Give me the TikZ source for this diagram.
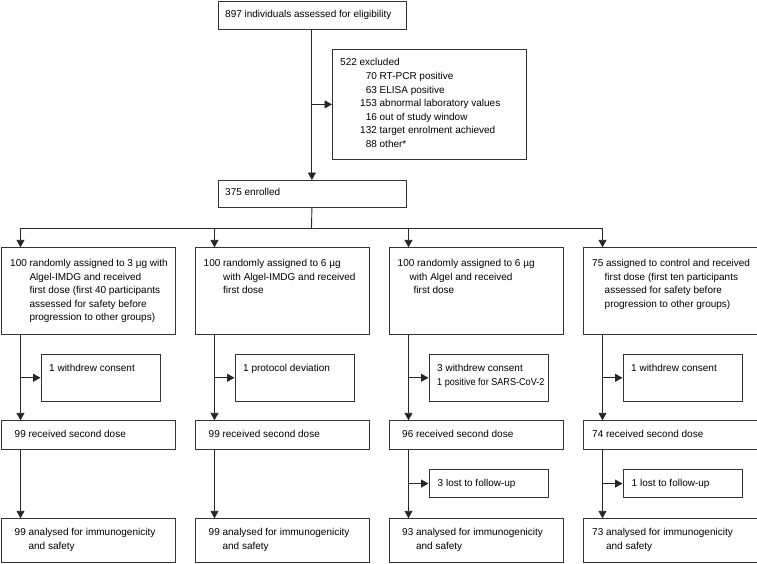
\documentclass[tikz,border=0pt]{standalone}
\usepackage{fontspec}
\usepackage{graphicx}
\setmainfont{Liberation Sans}
\usetikzlibrary{arrows.meta}
\begin{document}
\begin{tikzpicture}[x=1pt,y=-1pt,
  box/.style={draw=black!80,line width=0.8pt,rectangle,inner sep=0pt,anchor=north west},
  gbox/.style={box,minimum width=174pt},
  sbox/.style={box,minimum width=119pt},
  txt/.style={inner sep=0pt,anchor=north west,align=left,font=\fontsize{10}{13.6}\selectfont,text=black},
  conn/.style={draw=black!85,line width=0.9pt},
  arr/.style={conn,-{Triangle[width=8pt,length=7.5pt]}}]
\useasboundingbox (0,0) rectangle (757,563);

% top section
\node[box,minimum width=188pt,minimum height=28.5pt] (screen) at (217.5,0.5) {};
\node[txt] (screent) at (225,10) {897 individuals assessed for eligibility};
\node[box,minimum width=194pt,minimum height=110pt] (excl) at (332,49) {};
\node[txt] (exclt) at (340,58.5) {522 excluded\\
\hspace*{20pt}\makebox[16.7pt][r]{70} RT-PCR positive\\
\hspace*{20pt}\makebox[16.7pt][r]{63} ELISA positive\\
\hspace*{20pt}\makebox[16.7pt][r]{153} abnormal laboratory values\\
\hspace*{20pt}\makebox[16.7pt][r]{16} out of study window\\
\hspace*{20pt}\makebox[16.7pt][r]{132} target enrolment achieved\\
\hspace*{20pt}\makebox[16.7pt][r]{88} other*};
\node[box,minimum width=188pt,minimum height=27pt] (enrol) at (217.5,180) {};
\node[txt] (enrolt) at (225,188.5) {375 enrolled};

\draw[arr] (screen.south) -- (enrol.north);
\draw[arr] (screen.south |- excl.west) -- (excl.west);

% branch
\coordinate (br) at (311.5,228);
\coordinate (c1) at (20.5,228);
\coordinate (c2) at (214.5,228);
\coordinate (c3) at (408.5,228);
\coordinate (c4) at (602.5,228);
\draw[conn] (enrol.south) -- (br);
\draw[conn] (c1) -- (c4);

% group boxes
\node[gbox,minimum height=87pt] (g1) at (0.5,247.3) {};
\node[gbox,minimum height=87pt] (g2) at (194.5,247.3) {};
\node[gbox,minimum height=87pt] (g3) at (388.5,247.3) {};
\node[gbox,minimum height=87pt] (g4) at (582.5,247.3) {};
\node[txt] (g1t) at (10,259) {100 randomly assigned to 3 µg with\\
\hspace*{19.3pt}Algel-IMDG and received\\
\hspace*{19.3pt}first dose (first 40 participants\\
\hspace*{19.3pt}assessed for safety before\\
\hspace*{19.3pt}progression to other groups)};
\node[txt] (g2t) at (203.5,259) {100 randomly assigned to 6 µg\\
\hspace*{19.5pt}with Algel-IMDG and received\\
\hspace*{19.5pt}first dose};
\node[txt] (g3t) at (397.5,259) {100 randomly assigned to 6 µg\\
\hspace*{12pt}with Algel and received\\
\hspace*{16pt}first dose};
\node[txt] (g4t) at (592,259) {75 assigned to control and received\\
\hspace*{12.5pt}first dose (first ten participants\\
\hspace*{12.5pt}assessed for safety before\\
\hspace*{12.5pt}progression to other groups)};
\foreach \i in {1,2,3,4} \draw[arr] (c\i) -- (c\i |- g\i.north);

% exclusion boxes after first dose
\node[sbox,minimum height=46.7pt] (e1) at (40.5,354) {};
\node[sbox,minimum height=46.7pt] (e2) at (234.5,354) {};
\node[sbox,minimum height=46.7pt] (e3) at (428.5,354) {};
\node[sbox,minimum height=46.7pt] (e4) at (622.5,354) {};
\node[txt] (e1t) at (49,364.5) {1 withdrew consent};
\node[txt] (e2t) at (243,364.5) {1 protocol deviation};
\node[txt] (e3t) at (437,364.5) {3 withdrew consent\\\scalebox{0.91}[1]{1 positive for SARS-CoV-2}};
\node[txt] (e4t) at (631,364.5) {1 withdrew consent};

% second dose boxes
\node[gbox,minimum height=29pt] (s1) at (0.5,420.3) {};
\node[gbox,minimum height=29pt] (s2) at (194.5,420.3) {};
\node[gbox,minimum height=29pt] (s3) at (388.5,420.3) {};
\node[gbox,minimum height=29pt] (s4) at (582.5,420.3) {};
\node[txt] (s1t) at (14.5,430) {99 received second dose};
\node[txt] (s2t) at (208.5,430) {99 received second dose};
\node[txt] (s3t) at (402,430) {96 received second dose};
\node[txt] (s4t) at (592,430) {74 received second dose};

% lost to follow-up
\node[sbox,minimum height=27.7pt] (l3) at (428.5,469.3) {};
\node[sbox,minimum height=27.7pt] (l4) at (622.5,469.3) {};
\node[txt] (l3t) at (437.5,479.5) {3 lost to follow-up};
\node[txt] (l4t) at (631.5,479.5) {1 lost to follow-up};

% analysed
\node[gbox,minimum height=43.7pt] (a1) at (0.5,518.3) {};
\node[gbox,minimum height=43.7pt] (a2) at (194.5,518.3) {};
\node[gbox,minimum height=43.7pt] (a3) at (388.5,518.3) {};
\node[gbox,minimum height=43.7pt] (a4) at (582.5,518.3) {};
\node[txt] (a1t) at (14.5,528.3) {99 analysed for immunogenicity\\\hspace*{13.9pt}and safety};
\node[txt] (a2t) at (208.5,528.3) {99 analysed for immunogenicity\\\hspace*{13.9pt}and safety};
\node[txt] (a3t) at (402,528.3) {93 analysed for immunogenicity\\\hspace*{13.9pt}and safety};
\node[txt] (a4t) at (592,528.3) {73 analysed for immunogenicity\\\hspace*{13.9pt}and safety};

% column connectors
\foreach \i in {1,2,3,4} {
  \draw[arr] (g\i.south -| c\i) -- (s\i.north -| c\i);
  \draw[arr] (e\i.west -| c\i) -- (e\i.west);
  \draw[arr] (s\i.south -| c\i) -- (a\i.north -| c\i);
}
\draw[arr] (l3.west -| c3) -- (l3.west);
\draw[arr] (l4.west -| c4) -- (l4.west);
\end{tikzpicture}
\end{document}
